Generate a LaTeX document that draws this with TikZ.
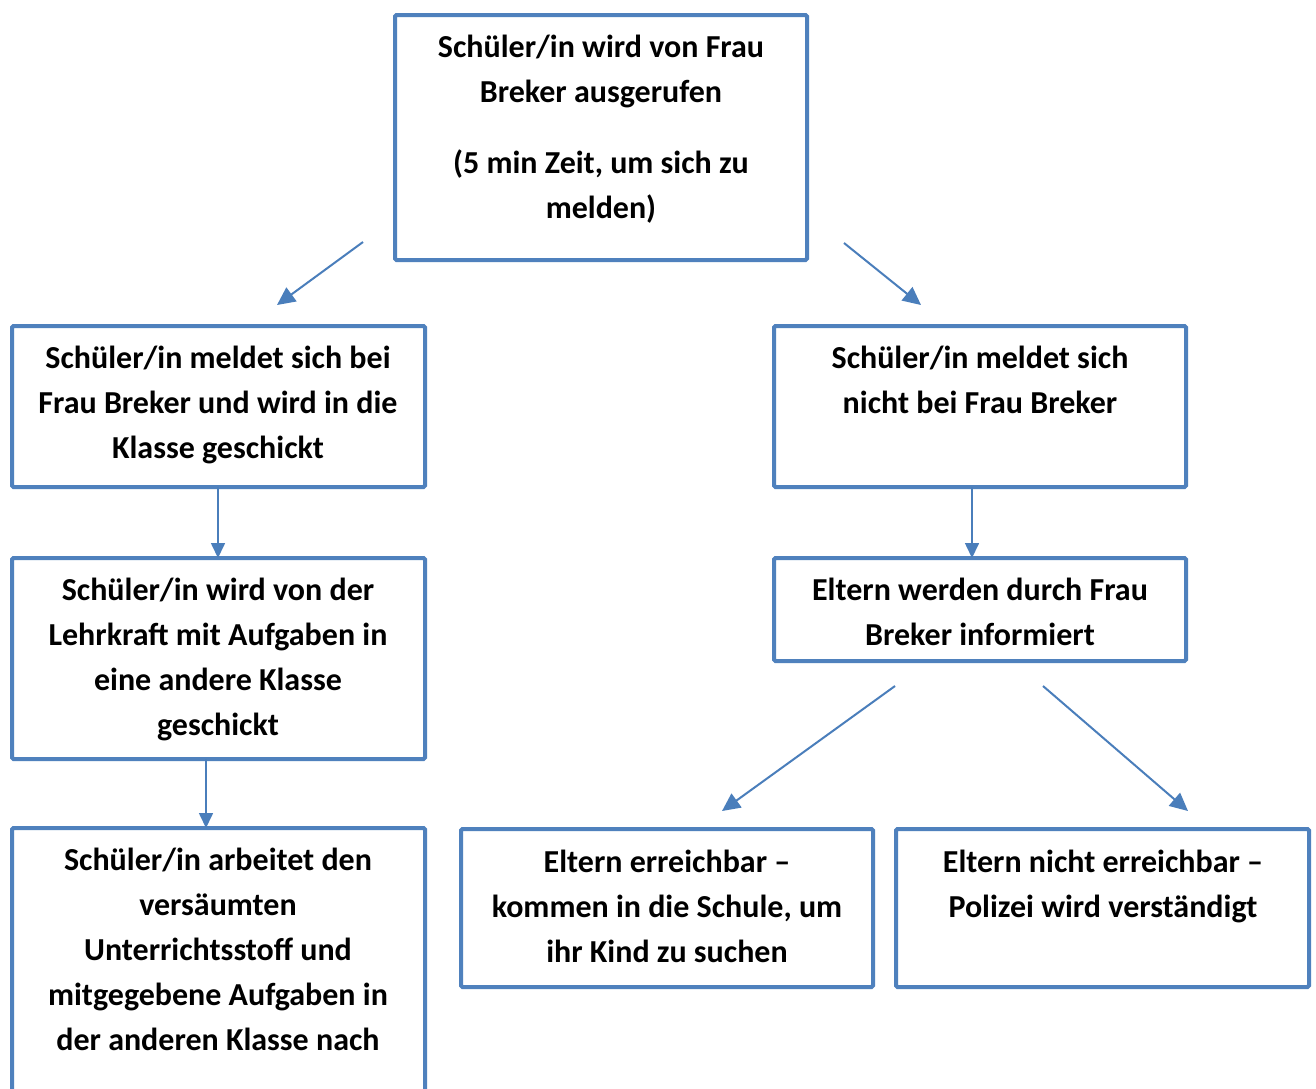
\documentclass[tikz,border=0pt]{standalone}
\usepackage{fontspec}
\setmainfont{Carlito}
\usetikzlibrary{arrows.meta,calc}
\definecolor{boxblue}{RGB}{79,129,189}
\definecolor{arrblue}{RGB}{74,126,187}
\newcommand\txtlines[1]{\begin{tabular}[t]{@{}c@{}}#1\end{tabular}}
\tikzset{
  box/.style={draw=boxblue, line width=4pt, rounded corners=1.5pt, inner sep=0pt, outer sep=0pt, anchor=north west},
  txt/.style={anchor=base, inner sep=0pt, font=\fontsize{32}{45}\selectfont\bfseries},
  arr/.style={draw=arrblue, line width=2pt, -{Triangle[length=18pt,width=17pt]}},
  varr/.style={draw=arrblue, line width=1.6pt, -{Triangle[length=15pt,width=14pt]}}
}
\begin{document}
\begin{tikzpicture}[x=1pt,y=-1pt]
\clip (0,0) rectangle (1316,1088);
\fill[white] (0,0) rectangle (1316,1088);
% boxes
\node[box, minimum width=412pt, minimum height=245pt] (top) at (395,15) {};
\node[box, minimum width=413pt, minimum height=161pt] (l1) at (12,326) {};
\node[box, minimum width=412pt, minimum height=161pt] (r1) at (774,326) {};
\node[box, minimum width=413pt, minimum height=201pt] (l2) at (12,558) {};
\node[box, minimum width=412pt, minimum height=103pt] (r2) at (774,558) {};
\node[box, minimum width=413pt, minimum height=290pt] (l3) at (12,828) {};
\node[box, minimum width=412pt, minimum height=158pt] (m3) at (461,829) {};
\node[box, minimum width=413pt, minimum height=158pt] (r3) at (896,829) {};
% texts
\node[txt] (ttop) at (601,57) {\txtlines{Schüler/in wird von Frau\\Breker ausgerufen\\[26pt](5 min Zeit, um sich zu\\melden)}};
\node[txt] (tl1) at (218,368) {\txtlines{Schüler/in meldet sich bei\\Frau Breker und wird in die\\Klasse geschickt}};
\node[txt] (tr1) at (980,368) {\txtlines{Schüler/in meldet sich\\nicht bei Frau Breker}};
\node[txt] (tl2) at (218,600) {\txtlines{Schüler/in wird von der\\Lehrkraft mit Aufgaben in\\eine andere Klasse\\geschickt}};
\node[txt] (tr2) at (980,600) {\txtlines{Eltern werden durch Frau\\Breker informiert}};
\node[txt] (tl3) at (218,870) {\txtlines{Schüler/in arbeitet den\\versäumten\\Unterrichtsstoff und\\mitgegebene Aufgaben in\\der anderen Klasse nach}};
\node[txt] (tm3) at (667,872) {\txtlines{Eltern erreichbar –\\kommen in die Schule, um\\ihr Kind zu suchen}};
\node[txt] (tr3) at (1103,872) {\txtlines{Eltern nicht erreichbar –\\Polizei wird verständigt}};
% arrow end points
\coordinate (a1s) at (363,242);
\coordinate (a1e) at (277,305);
\coordinate (a2s) at (844,243);
\coordinate (a2e) at (921,305);
\coordinate (a5s) at (895,686);
\coordinate (a5e) at (722,811);
\coordinate (a6s) at (1043,686);
\coordinate (a6e) at (1188,811);
% arrows
\draw[arr] (a1s) -- (a1e);
\draw[arr] (a2s) -- (a2e);
\draw[varr] (l1.south -| 218,0) -- (l2.north -| 218,0);
\draw[varr] (r1.south -| 972,0) -- (r2.north -| 972,0);
\draw[varr] (l2.south -| 206,0) -- (l3.north -| 206,0);
\draw[arr] (a5s) -- (a5e);
\draw[arr] (a6s) -- (a6e);
\end{tikzpicture}
\end{document}
